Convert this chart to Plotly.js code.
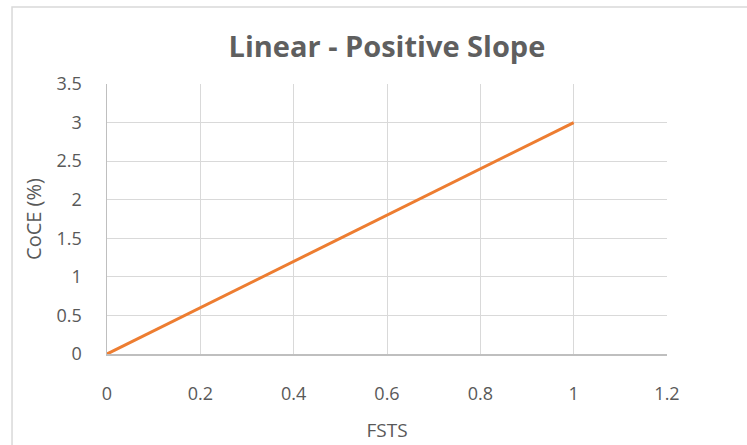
<!DOCTYPE html>
<html>
<head>
<meta charset="utf-8">
<script src="https://cdn.plot.ly/plotly-3.0.1.min.js"></script>
<style>
html,body{margin:0;padding:0;background:#fff;}
#chart{width:747px;height:445px;}
</style>
</head>
<body>
<div id="chart"></div>
<script>
const fsts = [0, 0.2, 0.4, 0.6, 0.8, 1];
const coce = [0, 0.6, 1.2, 1.8, 2.4, 3];
const xTicks = [0, 0.2, 0.4, 0.6, 0.8, 1, 1.2];
const yTicks = [0, 0.5, 1, 1.5, 2, 2.5, 3, 3.5];

const font = "Open Sans, Liberation Sans, sans-serif";
const textColor = "#595959";

const trace = {
  x: fsts, y: coce, type: "scatter", mode: "lines",
  line: {color: "#ED7D31", width: 3}, hoverinfo: "none"
};

const layout = {
  width: 747, height: 445,
  margin: {l: 107, r: 80, t: 84, b: 91},
  paper_bgcolor: "#ffffff", plot_bgcolor: "#ffffff",
  showlegend: false,
  font: {family: font, color: textColor, size: 18},
  title: {
    text: "<b>Linear - Positive Slope</b>",
    font: {family: font, size: 29, color: "#5f5f5f"},
    x: 0.518, xanchor: "center", y: 0.895, yanchor: "middle"
  },
  xaxis: {
    range: [0, 1.2], tickvals: xTicks, ticktext: xTicks.map(String),
    showgrid: true, gridcolor: "#d9d9d9", gridwidth: 1,
    showline: true, linecolor: "#bfbfbf", linewidth: 1.5,
    zeroline: false, ticks: "", ticklabelstandoff: 23,
    tickfont: {family: font, size: 18, color: textColor},
    title: {text: "FSTS", font: {family: font, size: 19, color: textColor}, standoff: 19}
  },
  yaxis: {
    range: [0, 3.5], tickvals: yTicks, ticktext: yTicks.map(String),
    showgrid: true, gridcolor: "#d9d9d9", gridwidth: 1,
    showline: true, linecolor: "#bfbfbf", linewidth: 1.5,
    zeroline: false, ticks: "", ticklabelstandoff: 20,
    tickfont: {family: font, size: 18, color: textColor},
    title: {text: "CoCE (%)", font: {family: font, size: 20, color: textColor}, standoff: 9}
  },
  shapes: [{
    type: "rect", xref: "paper", yref: "paper",
    x0: -0.1696, x1: 1.2, y0: -0.45, y1: 1.285,
    line: {color: "#d9d9d9", width: 1.5}, fillcolor: "rgba(0,0,0,0)", layer: "below"
  }]
};

Plotly.newPlot("chart", [trace], layout, {displayModeBar: false, staticPlot: true});
</script>
</body>
</html>
